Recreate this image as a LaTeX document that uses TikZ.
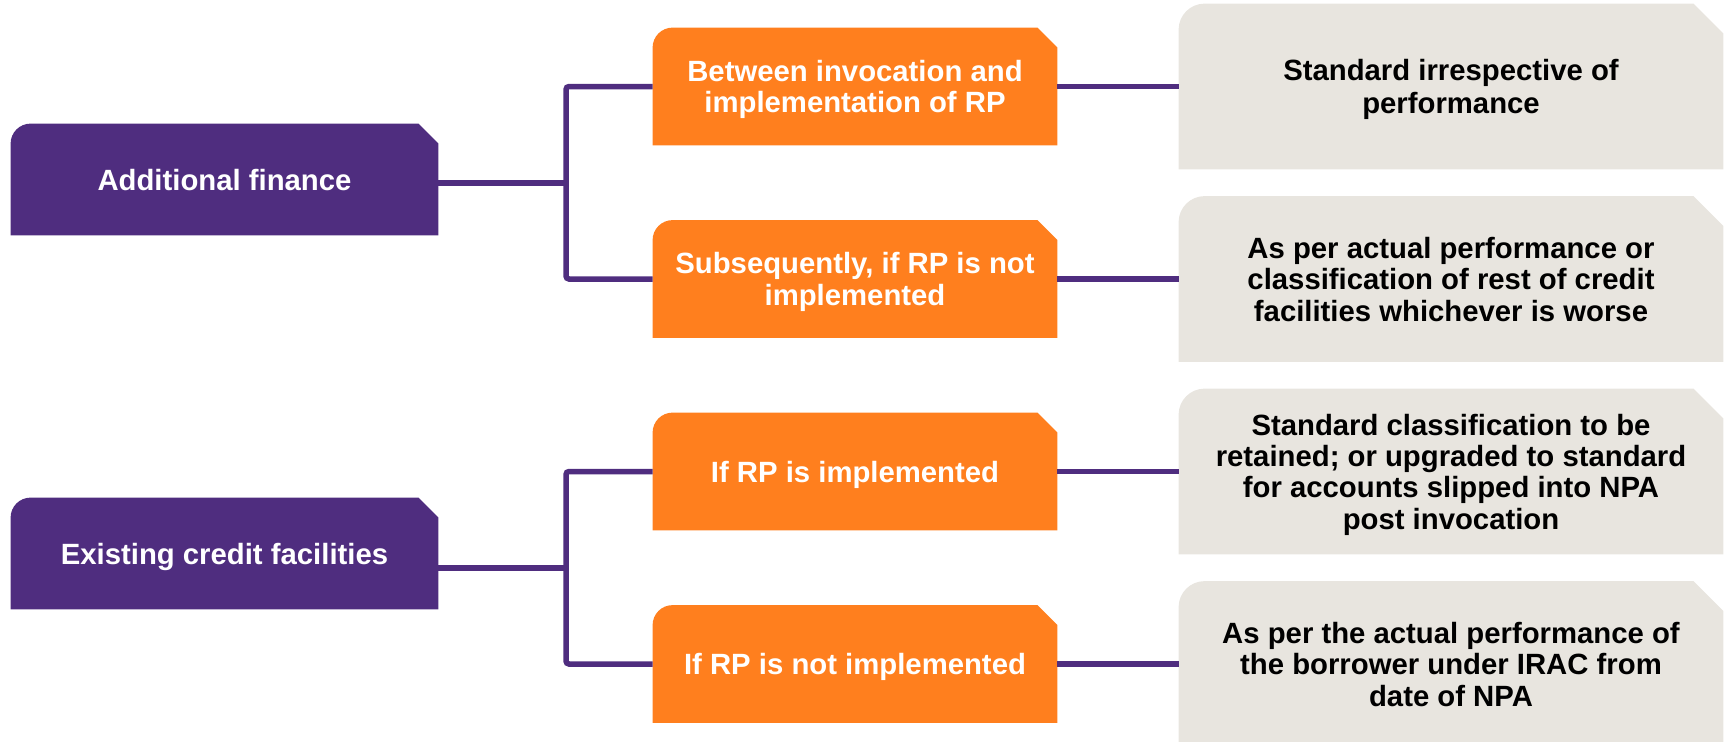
\documentclass[tikz,border=0pt]{standalone}
\usepackage{fontspec}
\setmainfont{Liberation Sans}
\usepackage{tikz}
\usetikzlibrary{positioning, backgrounds}
\usepackage{xcolor}
\definecolor{gtpurple}{HTML}{4F2D7F}
\definecolor{gtorange}{HTML}{FF7F1E}
\definecolor{gtgrey}{HTML}{E8E5DF}

\begin{document}
\begin{tikzpicture}[node distance=96.25pt and 298pt, on grid,
    every node/.style={font=\bfseries\fontsize{14.65}{15.7}\selectfont, align=center, inner sep=0pt,
        text depth=-2.2pt},
    lead/.style={minimum width=213.5pt, minimum height=55.5pt, text=white},
    option/.style={minimum width=202pt, minimum height=58.5pt, text=white},
    result/.style={minimum width=272pt, minimum height=82.5pt, text=black},
    link/.style={draw=gtpurple, line width=2.75pt, rounded corners=1.5pt}]
    \useasboundingbox (0,0) rectangle (862.5pt,-370.5pt);

    % left column
    \node[lead] (fin) at (112.25pt,-89.75pt) {Additional finance};
    \node[lead] (credit) at (112.25pt,-276.75pt) {Existing credit facilities};

    % middle column
    \node[option] (o1) at (427.5pt,-43.25pt) {Between invocation and\\implementation of RP};
    \node[option, below=of o1] (o2) {Subsequently, if RP is not\\implemented};
    \node[option, below=of o2] (o3) {If RP is implemented};
    \node[option, below=of o3] (o4) {If RP is not implemented};

    % right column
    \node[result, right=of o1, text depth=-4.4pt] (g1) {Standard irrespective of\\[0.5pt]performance};
    \node[result, right=of o2] (g2) {As per actual performance or\\classification of rest of credit\\facilities whichever is worse};
    \node[result, right=of o3] (g3) {Standard classification to be\\retained; or upgraded to standard\\for accounts slipped into NPA\\post invocation};
    \node[result, right=of o4] (g4) {As per the actual performance of\\the borrower under IRAC from\\date of NPA};

    \coordinate (j1) at (283pt,-91.4pt);
    \coordinate (j2) at (283pt,-283.9pt);

    \draw[link] (o1) -| (j1) |- (o2);
    \draw[link] (o3) -| (j2) |- (o4);
    \draw[link] (j1) -- (j1 -| fin.east);
    \draw[link] (j2) -- (j2 -| credit.east);
    \foreach \i in {1,...,4}
        \draw[link] (o\i) -- (g\i);

    % tab shapes behind the text
    \begin{scope}[on background layer]
        \foreach \n/\c/\rad/\cut in {fin/gtpurple/10pt/10pt, credit/gtpurple/10pt/10pt,
                o1/gtorange/10pt/10pt, o2/gtorange/10pt/10pt, o3/gtorange/10pt/10pt, o4/gtorange/10pt/10pt,
                g1/gtgrey/13pt/15pt, g2/gtgrey/13pt/15pt, g3/gtgrey/13pt/15pt, g4/gtgrey/13pt/15pt}
            \fill[\c] (\n.south west) -- ([yshift=-\rad]\n.north west)
                arc[start angle=180, end angle=90, radius=\rad]
                -- ([xshift=-\cut]\n.north east) -- ([yshift=-\cut]\n.north east)
                -- (\n.south east) -- cycle;
    \end{scope}
\end{tikzpicture}
\end{document}
